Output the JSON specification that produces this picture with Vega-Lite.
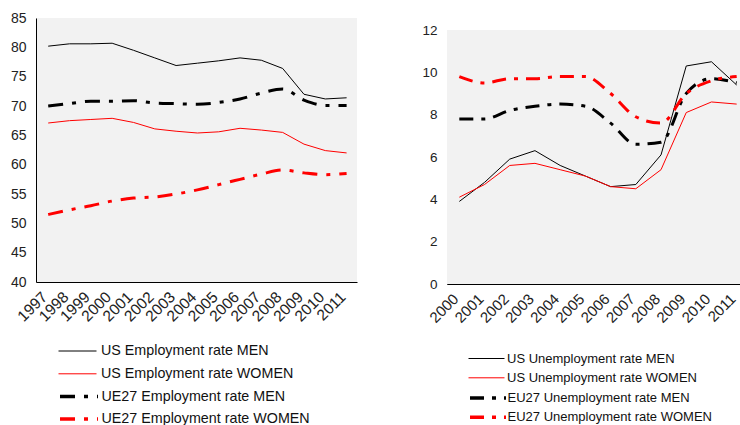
{
  "$schema": "https://vega.github.io/schema/vega-lite/v6.json",
  "padding": {"left": 10, "top": 11, "right": 0, "bottom": 0},
  "background": "white",
  "config": {
    "font": "Liberation Sans",
    "view": {"fill": "#f2f2f2", "stroke": null},
    "axis": {"domainColor": "#000000", "domainWidth": 1, "labelColor": "#222222", "ticks": false, "grid": false, "title": null},
    "legend": {"labelColor": "#111111", "labelLimit": 0}
  },
  "datasets": {
    "emp": [
      {"year": "1997", "US Employment rate MEN": 80.2, "US Employment rate WOMEN": 67.1, "UE27 Employment rate MEN": 70.0, "UE27 Employment rate WOMEN": 51.5},
      {"year": "1998", "US Employment rate MEN": 80.6, "US Employment rate WOMEN": 67.5, "UE27 Employment rate MEN": 70.4, "UE27 Employment rate WOMEN": 52.3},
      {"year": "1999", "US Employment rate MEN": 80.6, "US Employment rate WOMEN": 67.7, "UE27 Employment rate MEN": 70.8, "UE27 Employment rate WOMEN": 53.0},
      {"year": "2000", "US Employment rate MEN": 80.7, "US Employment rate WOMEN": 67.9, "UE27 Employment rate MEN": 70.8, "UE27 Employment rate WOMEN": 53.8},
      {"year": "2001", "US Employment rate MEN": 79.5, "US Employment rate WOMEN": 67.2, "UE27 Employment rate MEN": 70.9, "UE27 Employment rate WOMEN": 54.3},
      {"year": "2002", "US Employment rate MEN": 78.2, "US Employment rate WOMEN": 66.1, "UE27 Employment rate MEN": 70.5, "UE27 Employment rate WOMEN": 54.5},
      {"year": "2003", "US Employment rate MEN": 76.9, "US Employment rate WOMEN": 65.7, "UE27 Employment rate MEN": 70.4, "UE27 Employment rate WOMEN": 55.0},
      {"year": "2004", "US Employment rate MEN": 77.3, "US Employment rate WOMEN": 65.4, "UE27 Employment rate MEN": 70.3, "UE27 Employment rate WOMEN": 55.7},
      {"year": "2005", "US Employment rate MEN": 77.7, "US Employment rate WOMEN": 65.6, "UE27 Employment rate MEN": 70.6, "UE27 Employment rate WOMEN": 56.6},
      {"year": "2006", "US Employment rate MEN": 78.2, "US Employment rate WOMEN": 66.2, "UE27 Employment rate MEN": 71.2, "UE27 Employment rate WOMEN": 57.5},
      {"year": "2007", "US Employment rate MEN": 77.8, "US Employment rate WOMEN": 65.9, "UE27 Employment rate MEN": 72.2, "UE27 Employment rate WOMEN": 58.4},
      {"year": "2008", "US Employment rate MEN": 76.4, "US Employment rate WOMEN": 65.5, "UE27 Employment rate MEN": 72.9, "UE27 Employment rate WOMEN": 59.1},
      {"year": "2009", "US Employment rate MEN": 72.0, "US Employment rate WOMEN": 63.5, "UE27 Employment rate MEN": 71.0, "UE27 Employment rate WOMEN": 58.6},
      {"year": "2010", "US Employment rate MEN": 71.2, "US Employment rate WOMEN": 62.4, "UE27 Employment rate MEN": 70.1, "UE27 Employment rate WOMEN": 58.3},
      {"year": "2011", "US Employment rate MEN": 71.4, "US Employment rate WOMEN": 62.0, "UE27 Employment rate MEN": 70.1, "UE27 Employment rate WOMEN": 58.5}
    ],
    "unemp": [
      {"year": "2000", "US Unemployment rate MEN": 3.9, "US Unemployment rate WOMEN": 4.1, "EU27 Unemployment rate MEN": 7.8, "EU27 Unemployment rate WOMEN": 9.8},
      {"year": "2001", "US Unemployment rate MEN": 4.8, "US Unemployment rate WOMEN": 4.7, "EU27 Unemployment rate MEN": 7.8, "EU27 Unemployment rate WOMEN": 9.5},
      {"year": "2002", "US Unemployment rate MEN": 5.9, "US Unemployment rate WOMEN": 5.6, "EU27 Unemployment rate MEN": 8.2, "EU27 Unemployment rate WOMEN": 9.7},
      {"year": "2003", "US Unemployment rate MEN": 6.3, "US Unemployment rate WOMEN": 5.7, "EU27 Unemployment rate MEN": 8.4, "EU27 Unemployment rate WOMEN": 9.7},
      {"year": "2004", "US Unemployment rate MEN": 5.6, "US Unemployment rate WOMEN": 5.4, "EU27 Unemployment rate MEN": 8.5, "EU27 Unemployment rate WOMEN": 9.8},
      {"year": "2005", "US Unemployment rate MEN": 5.1, "US Unemployment rate WOMEN": 5.1, "EU27 Unemployment rate MEN": 8.4, "EU27 Unemployment rate WOMEN": 9.8},
      {"year": "2006", "US Unemployment rate MEN": 4.6, "US Unemployment rate WOMEN": 4.6, "EU27 Unemployment rate MEN": 7.6, "EU27 Unemployment rate WOMEN": 9.0},
      {"year": "2007", "US Unemployment rate MEN": 4.7, "US Unemployment rate WOMEN": 4.5, "EU27 Unemployment rate MEN": 6.6, "EU27 Unemployment rate WOMEN": 7.9},
      {"year": "2008", "US Unemployment rate MEN": 6.1, "US Unemployment rate WOMEN": 5.4, "EU27 Unemployment rate MEN": 6.7, "EU27 Unemployment rate WOMEN": 7.6},
      {"year": "2009", "US Unemployment rate MEN": 10.3, "US Unemployment rate WOMEN": 8.1, "EU27 Unemployment rate MEN": 9.0, "EU27 Unemployment rate WOMEN": 9.0},
      {"year": "2010", "US Unemployment rate MEN": 10.5, "US Unemployment rate WOMEN": 8.6, "EU27 Unemployment rate MEN": 9.7, "EU27 Unemployment rate WOMEN": 9.6},
      {"year": "2011", "US Unemployment rate MEN": 9.4, "US Unemployment rate WOMEN": 8.5, "EU27 Unemployment rate MEN": 9.5, "EU27 Unemployment rate WOMEN": 9.8}
    ]
  },
  "spacing": 64,
  "resolve": {"scale": {"x": "independent", "y": "independent", "color": "independent", "stroke": "independent", "strokeDash": "independent"}},
  "hconcat": [
    {
      "width": 321,
      "height": 264,
      "data": {"name": "emp"},
      "transform": [{"fold": ["US Employment rate MEN", "US Employment rate WOMEN", "UE27 Employment rate MEN", "UE27 Employment rate WOMEN"], "as": ["series", "value"]}],
      "encoding": {
        "x": {"field": "year", "type": "ordinal", "scale": {"type": "point", "padding": 0.53, "align": 0.54}, "axis": {"labelAngle": -45, "labelFontSize": 15.5, "labelPadding": 12, "labelOffset": -4, "labelAlign": "right", "labelBaseline": "middle"}},
        "y": {"field": "value", "type": "quantitative", "scale": {"domain": [40, 85], "nice": false, "zero": false}, "axis": {"values": [40, 45, 50, 55, 60, 65, 70, 75, 80, 85], "labelFontSize": 14, "labelPadding": 10}}
      },
      "layer": [
        {
          "transform": [{"filter": "indexof(datum.series, 'US') == 0"}],
          "mark": {"type": "line", "interpolate": "linear", "strokeWidth": 1},
          "encoding": {
            "color": {"field": "series", "type": "nominal", "scale": {"domain": ["US Employment rate MEN", "US Employment rate WOMEN"], "range": ["#000000", "#ff0000"]},
              "legend": {"orient": "none", "legendX": 31.5, "legendY": 323, "title": null, "direction": "vertical", "symbolType": "M-2,0H2", "symbolSize": 361, "symbolStrokeWidth": 1, "labelFontSize": 14.3, "rowPadding": 4.8, "labelOffset": 13.5}}
          }
        },
        {
          "transform": [{"filter": "indexof(datum.series, 'US') != 0"}],
          "mark": {"type": "line", "interpolate": "monotone", "strokeWidth": 3},
          "encoding": {
            "stroke": {"field": "series", "type": "nominal", "scale": {"domain": ["UE27 Employment rate MEN", "UE27 Employment rate WOMEN"], "range": ["#000000", "#ff0000"]},
              "legend": {"orient": "none", "legendX": 31.5, "legendY": 367, "title": null, "direction": "vertical", "symbolType": "M-2,0H2", "symbolSize": 361, "symbolStrokeWidth": 3.5, "labelFontSize": 14.3, "rowPadding": 3.6, "labelOffset": 11}},
            "strokeDash": {"field": "series", "type": "nominal", "scale": {"domain": ["UE27 Employment rate MEN", "UE27 Employment rate WOMEN"], "range": [[15, 9, 4, 9], [15, 9, 4, 9]]},
              "legend": {"orient": "none", "legendX": 31.5, "legendY": 367, "title": null, "direction": "vertical", "symbolType": "M-2,0H2", "symbolSize": 361, "symbolStrokeWidth": 3.5, "labelFontSize": 14.3, "rowPadding": 3.6, "labelOffset": 11}}
          }
        }
      ]
    },
    {
      "width": 294,
      "height": 266,
      "view": {"fill": "white", "stroke": null},
      "data": {"name": "unemp"},
      "transform": [{"fold": ["US Unemployment rate MEN", "US Unemployment rate WOMEN", "EU27 Unemployment rate MEN", "EU27 Unemployment rate WOMEN"], "as": ["series", "value"]}],
      "layer": [
        {
          "data": {"values": [{"lo": 0, "hi": 12}]},
          "mark": {"type": "rect", "color": "#f2f2f2"},
          "encoding": {"y": {"field": "hi", "type": "quantitative"}, "y2": {"field": "lo"}}
        },
        {
          "transform": [{"filter": "indexof(datum.series, 'US') == 0"}],
          "mark": {"type": "line", "interpolate": "linear", "strokeWidth": 1},
          "encoding": {
            "x": {"field": "year", "type": "ordinal"},
            "y": {"field": "value", "type": "quantitative"},
            "color": {"field": "series", "type": "nominal", "scale": {"domain": ["US Unemployment rate MEN", "US Unemployment rate WOMEN"], "range": ["#000000", "#ff0000"]},
              "legend": {"orient": "none", "legendX": 30, "legendY": 331, "title": null, "direction": "vertical", "symbolType": "M-2,0H2", "symbolSize": 324, "symbolStrokeWidth": 1, "labelFontSize": 13, "rowPadding": 2.3, "labelOffset": 11}}
          }
        },
        {
          "transform": [{"filter": "indexof(datum.series, 'US') != 0"}],
          "mark": {"type": "line", "interpolate": "monotone", "strokeWidth": 3},
          "encoding": {
            "x": {"field": "year", "type": "ordinal", "scale": {"type": "point", "padding": 0.33, "align": 0.74}, "axis": {"labelAngle": -45, "labelFontSize": 15, "labelPadding": 12, "labelOffset": -4, "labelAlign": "right", "labelBaseline": "middle"}},
            "y": {"field": "value", "type": "quantitative", "scale": {"domain": [0, 12], "nice": false, "range": [266, 12]}, "axis": {"values": [0, 2, 4, 6, 8, 10, 12], "labelFontSize": 13.5, "labelPadding": 10}},
            "stroke": {"field": "series", "type": "nominal", "scale": {"domain": ["EU27 Unemployment rate MEN", "EU27 Unemployment rate WOMEN"], "range": ["#000000", "#ff0000"]},
              "legend": {"orient": "none", "legendX": 30, "legendY": 369, "title": null, "direction": "vertical", "symbolType": "M-2,0H2", "symbolSize": 324, "symbolStrokeWidth": 3.5, "labelFontSize": 13, "rowPadding": 1.3, "labelOffset": 8.5}},
            "strokeDash": {"field": "series", "type": "nominal", "scale": {"domain": ["EU27 Unemployment rate MEN", "EU27 Unemployment rate WOMEN"], "range": [[14, 8, 4, 8], [14, 8, 4, 8]]},
              "legend": {"orient": "none", "legendX": 30, "legendY": 369, "title": null, "direction": "vertical", "symbolType": "M-2,0H2", "symbolSize": 324, "symbolStrokeWidth": 3.5, "labelFontSize": 13, "rowPadding": 1.3, "labelOffset": 8.5}}
          }
        }
      ]
    }
  ]
}
